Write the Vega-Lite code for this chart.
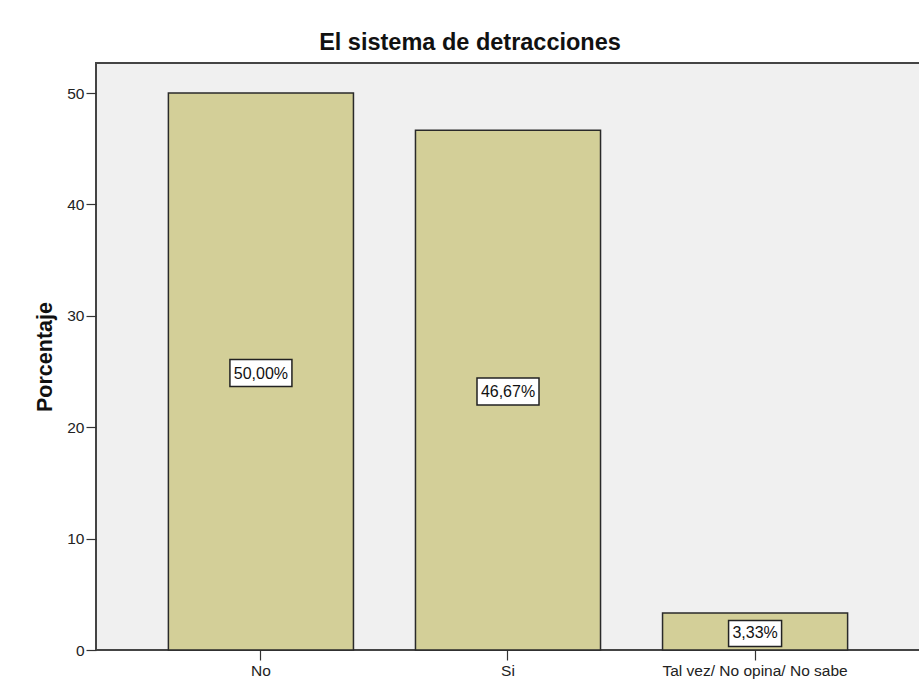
{
  "$schema": "https://vega.github.io/schema/vega-lite/v6.json",
  "width": 824,
  "height": 587,
  "autosize": {"type": "none"},
  "padding": {"left": 96, "top": 63, "right": 0, "bottom": 32},
  "background": "white",
  "title": {
    "text": "El sistema de detracciones",
    "font": "Liberation Sans",
    "fontSize": 23.5,
    "fontWeight": "bold",
    "color": "#111111",
    "anchor": "middle",
    "dx": -38,
    "offset": 9
  },
  "config": {
    "view": {"fill": "#f0f0f0", "stroke": "#444444", "strokeWidth": 2},
    "axis": {
      "labelFont": "Liberation Sans",
      "titleFont": "Liberation Sans",
      "labelColor": "#222222",
      "titleColor": "#111111",
      "tickColor": "#333333",
      "domain": false,
      "grid": false
    }
  },
  "data": {
    "values": [
      {"categoria": "No", "porcentaje": 50.0, "etiqueta": "50,00%"},
      {"categoria": "Si", "porcentaje": 46.67, "etiqueta": "46,67%"},
      {"categoria": "Tal vez/ No opina/ No sabe", "porcentaje": 3.33, "etiqueta": "3,33%"}
    ]
  },
  "encoding": {
    "x": {
      "field": "categoria",
      "type": "nominal",
      "sort": null,
      "scale": {"paddingInner": 0.251, "paddingOuter": 0.293},
      "axis": {
        "title": null,
        "labelAngle": 0,
        "labelLimit": 0,
        "labelFontSize": 15.5,
        "labelPadding": 3,
        "tickSize": 10,
        "tickWidth": 1.2
      }
    }
  },
  "layer": [
    {
      "mark": {"type": "bar", "fill": "#d3cf98", "stroke": "#2a2a2a", "strokeWidth": 1.5},
      "encoding": {
        "y": {
          "field": "porcentaje",
          "type": "quantitative",
          "scale": {"domain": [0, 52.7], "nice": false, "zero": true},
          "axis": {
            "title": "Porcentaje",
            "titleFontSize": 21.5,
            "titleFontWeight": "bold",
            "titlePadding": 10,
            "values": [0, 10, 20, 30, 40, 50],
            "labelFontSize": 15.5,
            "labelPadding": 2,
            "tickSize": 10,
            "tickWidth": 1.2
          }
        }
      }
    },
    {
      "transform": [{"filter": "datum.porcentaje >= 10"}],
      "mark": {
        "type": "point",
        "shape": "M-1,-0.435H1V0.435H-1Z",
        "size": 3844,
        "filled": true,
        "fill": "white",
        "stroke": "#222222",
        "strokeWidth": 1.5,
        "opacity": 1,
        "yOffset": 1.5
      },
      "encoding": {
        "y": {
          "field": "porcentaje",
          "type": "quantitative",
          "scale": {"domain": [0, 105.4], "nice": false, "zero": true},
          "axis": null
        }
      }
    },
    {
      "transform": [{"filter": "datum.porcentaje < 10"}],
      "mark": {
        "type": "point",
        "shape": "M-1,-0.49H1V0.49H-1Z",
        "size": 2809,
        "filled": true,
        "fill": "white",
        "stroke": "#222222",
        "strokeWidth": 1.5,
        "opacity": 1,
        "yOffset": 2
      },
      "encoding": {
        "y": {
          "field": "porcentaje",
          "type": "quantitative",
          "scale": {"domain": [0, 105.4], "nice": false, "zero": true},
          "axis": null
        }
      }
    },
    {
      "mark": {
        "type": "text",
        "font": "Liberation Sans",
        "fontSize": 16,
        "color": "#111111",
        "baseline": "middle",
        "align": "center",
        "yOffset": 2
      },
      "encoding": {
        "y": {
          "field": "porcentaje",
          "type": "quantitative",
          "scale": {"domain": [0, 105.4], "nice": false, "zero": true},
          "axis": null
        },
        "text": {"field": "etiqueta", "type": "nominal"}
      }
    }
  ],
  "resolve": {"scale": {"y": "independent"}}
}
